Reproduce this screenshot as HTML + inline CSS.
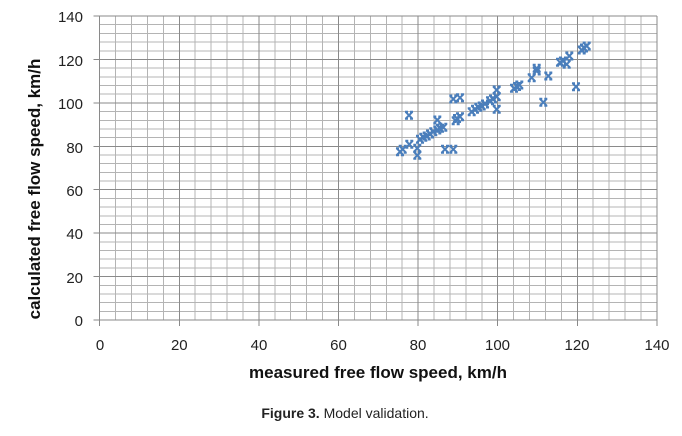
<!DOCTYPE html>
<html><head><meta charset="utf-8"><style>
html,body{margin:0;padding:0;background:#fff;}
svg{display:block;}
text{font-family:"Liberation Sans",sans-serif;}
</style></head><body>
<svg width="682" height="436" xmlns="http://www.w3.org/2000/svg">
<defs>
<g id="m" stroke="#4a7ebb" stroke-width="2" fill="none">
<path d="M-3.5,-3.5L3.5,3.5M-3.5,3.5L3.5,-3.5M-4,-3.5h3M1,-3.5h3M-4,3.5h3M1,3.5h3"/>
</g>
</defs>
<g id="grid" shape-rendering="crispEdges"></g>
<script>
(function(){
var g=document.getElementById('grid'),ns='http://www.w3.org/2000/svg';
function ln(x1,y1,x2,y2,c){var l=document.createElementNS(ns,'line');l.setAttribute('x1',x1);l.setAttribute('y1',y1);l.setAttribute('x2',x2);l.setAttribute('y2',y2);l.setAttribute('stroke',c);l.setAttribute('stroke-width',1);g.appendChild(l);}
var X0=99.7,XS=3.98,Y0=320,YS=2.171;
for(var v=4;v<=140;v+=4){if(v%20)ln(X0+v*XS,Y0,X0+v*XS,Y0-140*YS,'#b4b4b4');}
for(var v=4;v<=140;v+=4){if(v%20)ln(X0,Y0-v*YS,X0+140*XS,Y0-v*YS,'#b4b4b4');}
for(var v=20;v<=140;v+=20){ln(X0+v*XS,Y0,X0+v*XS,Y0-140*YS,'#8a8a8a');ln(X0,Y0-v*YS,X0+140*XS,Y0-v*YS,'#8a8a8a');}
ln(X0,Y0,X0,Y0-140*YS,'#8a8a8a');ln(X0,Y0,X0+140*XS,Y0,'#8a8a8a');
for(var v=0;v<=140;v+=20){ln(X0-6,Y0-v*YS,X0,Y0-v*YS,'#8a8a8a');ln(X0+v*XS,Y0,X0+v*XS,Y0+6,'#8a8a8a');}
})();
</script>
<g font-size="15" fill="#222" text-anchor="end">
<text x="83" y="326">0</text><text x="83" y="283">20</text><text x="83" y="239">40</text><text x="83" y="196">60</text><text x="83" y="153">80</text><text x="83" y="109">100</text><text x="83" y="66">120</text><text x="83" y="22">140</text>
</g>
<g font-size="15" fill="#222" text-anchor="middle">
<text x="100" y="350">0</text><text x="179.3" y="350">20</text><text x="259" y="350">40</text><text x="338.5" y="350">60</text><text x="418" y="350">80</text><text x="497.5" y="350">100</text><text x="577" y="350">120</text><text x="657" y="350">140</text>
</g>
<text x="378" y="378" font-size="17" font-weight="bold" text-anchor="middle" fill="#111">measured free flow speed, km/h</text>
<text transform="translate(40,189) rotate(-90)" font-size="17" font-weight="bold" text-anchor="middle" fill="#111">calculated free flow speed, km/h</text>
<text x="345" y="418" font-size="14" text-anchor="middle" fill="#222"><tspan font-weight="bold">Figure 3.</tspan> Model validation.</text>
<g>
<use href="#m" x="400" y="151.7"/><use href="#m" x="402.7" y="149.3"/><use href="#m" x="409.3" y="144.3"/><use href="#m" x="409" y="115.3"/>
<use href="#m" x="417.3" y="148.3"/><use href="#m" x="417.3" y="155.3"/><use href="#m" x="420" y="139.3"/><use href="#m" x="423.3" y="137.3"/>
<use href="#m" x="426.7" y="136"/><use href="#m" x="430" y="134"/><use href="#m" x="433.3" y="131.7"/><use href="#m" x="437.3" y="120"/><use href="#m" x="437.3" y="130"/>
<use href="#m" x="440" y="128.3"/><use href="#m" x="443.3" y="127.3"/><use href="#m" x="445" y="149.3"/><use href="#m" x="453.3" y="149.3"/>
<use href="#m" x="453.3" y="99"/><use href="#m" x="460" y="97.7"/><use href="#m" x="455.7" y="120.7"/><use href="#m" x="460" y="116.7"/><use href="#m" x="457" y="118.5"/>
<use href="#m" x="471.7" y="111.7"/><use href="#m" x="475" y="109.3"/><use href="#m" x="478.3" y="107.3"/><use href="#m" x="481.7" y="106"/><use href="#m" x="485" y="104"/>
<use href="#m" x="490" y="100.7"/><use href="#m" x="493" y="99"/><use href="#m" x="496.7" y="90"/><use href="#m" x="496.7" y="96.7"/><use href="#m" x="496.7" y="109.3"/>
<use href="#m" x="514" y="88.3"/><use href="#m" x="517" y="86.5"/><use href="#m" x="519.3" y="85"/><use href="#m" x="531.7" y="77.7"/><use href="#m" x="536.7" y="68.3"/>
<use href="#m" x="536.7" y="71"/><use href="#m" x="543.3" y="102.3"/><use href="#m" x="548.3" y="76"/><use href="#m" x="560" y="62.3"/><use href="#m" x="563" y="61"/>
<use href="#m" x="566.7" y="64.3"/><use href="#m" x="569.3" y="56"/><use href="#m" x="576" y="86.7"/><use href="#m" x="581.7" y="50"/><use href="#m" x="584" y="48"/><use href="#m" x="586.7" y="46"/>
</g>
</svg>
</body></html>
